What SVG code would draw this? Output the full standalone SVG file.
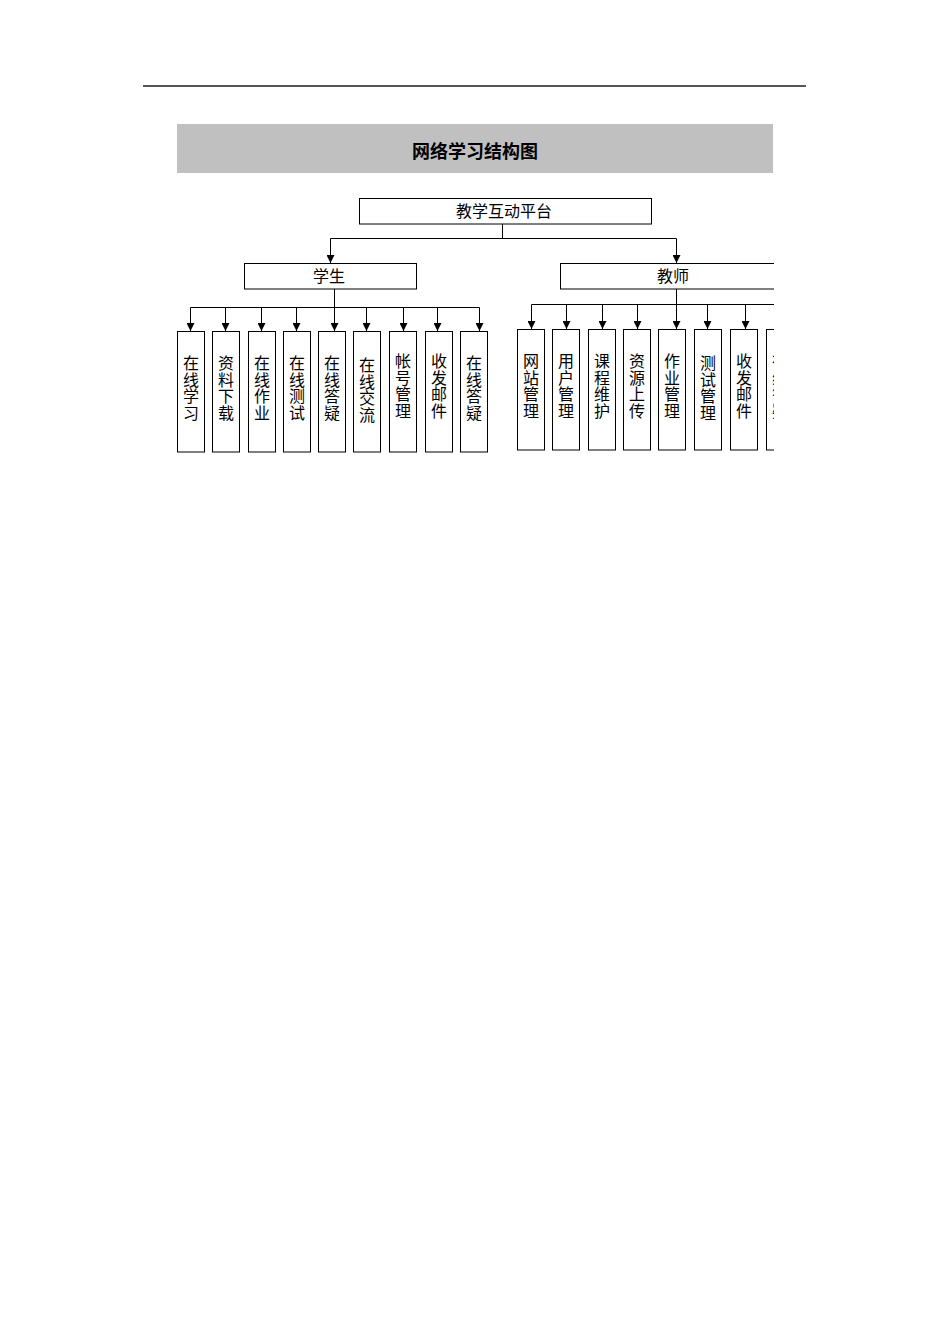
<svg xmlns="http://www.w3.org/2000/svg" width="950" height="1344" viewBox="0 0 950 1344">
<style>
.box{fill:#fff;stroke:#000;stroke-width:1}
.ln{fill:none;stroke:#000;stroke-width:1}
.t{font-family:"Noto Sans CJK SC","Liberation Sans",sans-serif;font-size:16px;fill:#000;text-anchor:middle}
.v{font-family:"Noto Sans CJK SC","Liberation Sans",sans-serif;font-size:16px;fill:#000;writing-mode:vertical-rl;text-anchor:start;letter-spacing:0.6px}
.title{font-family:"Noto Sans CJK SC","Liberation Sans",sans-serif;font-size:18px;font-weight:bold;fill:#000;text-anchor:middle}
</style>
<defs>
<marker id="arr" viewBox="0 0 8 8" refX="8" refY="4" markerWidth="8" markerHeight="8" markerUnits="userSpaceOnUse" orient="auto">
<path d="M0,0 L8,4 L0,8 z" fill="#000"/>
</marker>
<clipPath id="clip"><rect x="0" y="190" width="774" height="280"/></clipPath>
</defs>
<rect width="950" height="1344" fill="#fff"/>
<line x1="143" y1="86" x2="806" y2="86" stroke="#555" stroke-width="2"/>
<g id="title">
<rect x="177" y="124" width="596" height="49" fill="#C0C0C0"/>
<text class="title" x="475" y="158">网络学习结构图</text>
</g>
<g clip-path="url(#clip)">
<g id="connectors">
<path class="ln" d="M502.5,224 V238.5 M330.5,238.5 H676.5"/>
<path class="ln" d="M330.5,238.5 V263" marker-end="url(#arr)"/>
<path class="ln" d="M676.5,238.5 V263" marker-end="url(#arr)"/>
<path class="ln" d="M334.5,289 V307.5 M190.5,307.5 H479.5"/>
<path class="ln" d="M190.5,307.5 V331" marker-end="url(#arr)"/>
<path class="ln" d="M225.5,307.5 V331" marker-end="url(#arr)"/>
<path class="ln" d="M261.5,307.5 V331" marker-end="url(#arr)"/>
<path class="ln" d="M296.5,307.5 V331" marker-end="url(#arr)"/>
<path class="ln" d="M334.5,307.5 V331" marker-end="url(#arr)"/>
<path class="ln" d="M366.5,307.5 V331" marker-end="url(#arr)"/>
<path class="ln" d="M403.5,307.5 V331" marker-end="url(#arr)"/>
<path class="ln" d="M437.5,307.5 V331" marker-end="url(#arr)"/>
<path class="ln" d="M479.5,307.5 V331" marker-end="url(#arr)"/>
<path class="ln" d="M676.5,289 V304.5 M531.5,304.5 H790"/>
<path class="ln" d="M531.5,304.5 V329" marker-end="url(#arr)"/>
<path class="ln" d="M566.5,304.5 V329" marker-end="url(#arr)"/>
<path class="ln" d="M602.5,304.5 V329" marker-end="url(#arr)"/>
<path class="ln" d="M637.5,304.5 V329" marker-end="url(#arr)"/>
<path class="ln" d="M676.5,304.5 V329" marker-end="url(#arr)"/>
<path class="ln" d="M707.5,304.5 V329" marker-end="url(#arr)"/>
<path class="ln" d="M745.5,304.5 V329" marker-end="url(#arr)"/>
<path class="ln" d="M780.5,304.5 V329" marker-end="url(#arr)"/>
</g>
<g id="root"><rect class="box" x="359.5" y="198.5" width="292" height="25.5"/><text class="t" x="504" y="217">教学互动平台</text></g>
<g id="student"><rect class="box" x="244.5" y="263.5" width="172" height="25.5"/><text class="t" x="329" y="282">学生</text></g>
<g id="teacher"><rect class="box" x="560.5" y="263.5" width="230" height="25.5"/><text class="t" x="673" y="282">教师</text></g>
<g id="s1"><rect class="box" x="177.5" y="331.5" width="27" height="120.5"/><text class="v" x="191" y="355">在线学习</text></g>
<g id="s2"><rect class="box" x="212.5" y="331.5" width="27" height="120.5"/><text class="v" x="226" y="355">资料下载</text></g>
<g id="s3"><rect class="box" x="248.5" y="331.5" width="27" height="120.5"/><text class="v" x="262" y="355">在线作业</text></g>
<g id="s4"><rect class="box" x="283.5" y="331.5" width="27" height="120.5"/><text class="v" x="297" y="355">在线测试</text></g>
<g id="s5"><rect class="box" x="318.5" y="331.5" width="27" height="120.5"/><text class="v" x="332" y="355">在线答疑</text></g>
<g id="s6"><rect class="box" x="353.5" y="331.5" width="27" height="120.5"/><text class="v" x="367" y="357">在线交流</text></g>
<g id="s7"><rect class="box" x="389.5" y="331.5" width="27" height="120.5"/><text class="v" x="403" y="353">帐号管理</text></g>
<g id="s8"><rect class="box" x="425.5" y="331.5" width="27" height="120.5"/><text class="v" x="439" y="353">收发邮件</text></g>
<g id="s9"><rect class="box" x="460.5" y="331.5" width="27" height="120.5"/><text class="v" x="474" y="355">在线答疑</text></g>
<g id="t1"><rect class="box" x="517.5" y="329.5" width="27" height="120.5"/><text class="v" x="531" y="353">网站管理</text></g>
<g id="t2"><rect class="box" x="552.5" y="329.5" width="27" height="120.5"/><text class="v" x="566" y="353">用户管理</text></g>
<g id="t3"><rect class="box" x="588.5" y="329.5" width="27" height="120.5"/><text class="v" x="602" y="353">课程维护</text></g>
<g id="t4"><rect class="box" x="623.5" y="329.5" width="27" height="120.5"/><text class="v" x="637" y="353">资源上传</text></g>
<g id="t5"><rect class="box" x="658.5" y="329.5" width="27" height="120.5"/><text class="v" x="672" y="353">作业管理</text></g>
<g id="t6"><rect class="box" x="694.5" y="329.5" width="27" height="120.5"/><text class="v" x="708" y="355">测试管理</text></g>
<g id="t7"><rect class="box" x="730.5" y="329.5" width="27" height="120.5"/><text class="v" x="744" y="353">收发邮件</text></g>
<g id="t8"><rect class="box" x="766.5" y="329.5" width="27" height="120.5"/><text class="v" x="780" y="353">在线答疑</text></g>
</g>
</svg>
